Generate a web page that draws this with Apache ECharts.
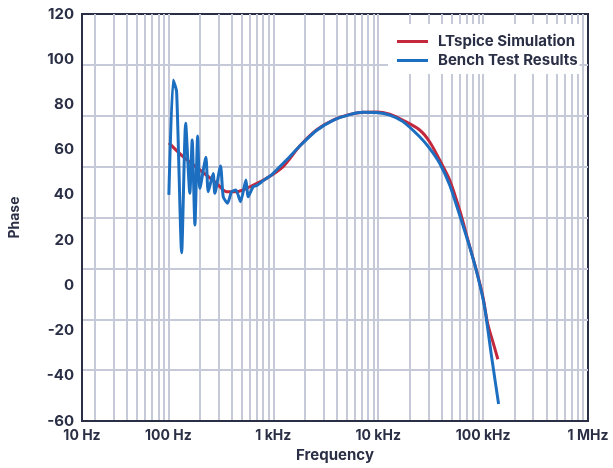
<!DOCTYPE html>
<html>
<head>
<meta charset="utf-8">
<script src="https://cdn.jsdelivr.net/npm/echarts@6/dist/echarts.min.js"></script>
<style>
html,body{margin:0;padding:0;background:#fff;}
#c{width:613px;height:468px;}
</style>
</head>
<body>
<div id="c"></div>
<script>
// ---- data (frequency in Hz, phase in degrees) ----
var ltspiceFreq  = [101, 138, 200, 288, 358, 446, 598, 860, 1240, 1786, 2578, 3716, 5355, 7168, 9610, 12880, 17230, 24840, 30900, 38520, 48000, 59730, 71610, 86100, 99500, 110400, 124000, 138300];
var ltspicePhase = [63.0, 56.9, 51.0, 45.1, 41.4, 41.4, 43.6, 47.3, 52.5, 61.6, 68.7, 73.1, 75.6, 76.6, 76.7, 75.7, 73.0, 68.7, 63.5, 55.4, 46.6, 33.3, 20.1, 6.8, -5.0, -16.8, -25.0, -32.7];

var benchFreq  = [101, 111, 119.7, 133.7, 146, 160, 168.5, 178.9, 190, 199.6, 227.6, 239.5, 267, 277, 314, 333, 366, 400, 439, 487, 548, 576, 642, 700, 743, 800, 860, 950, 1073, 1335, 1786, 2578, 3716, 5355, 7168, 9610, 12880, 17230, 24840, 30900, 38520, 48000, 59730, 74300, 89150, 103200, 120500, 140500];
var benchPhase = [40.0, 90.8, 85.6, 14.4, 71.7, 40.7, 64.3, 26.7, 66.0, 42.9, 56.6, 41.4, 49.5, 40.7, 52.8, 39.2, 36.3, 41.4, 42.2, 37.0, 46.6, 39.2, 43.6, 44.2, 45.1, 46.3, 47.3, 48.6, 51.0, 55.4, 61.6, 68.5, 73.0, 75.5, 76.5, 76.4, 75.3, 72.4, 65.7, 60.6, 54.0, 44.4, 31.1, 17.1, 3.8, -9.5, -31.6, -52.5];

var xTickValues = [15, 100, 1000, 10000, 100000, 1000000];
var xTickLabels = ['10 Hz', '100 Hz', '1 kHz', '10 kHz', '100 kHz', '1 MHz'];
var xMin = 15, xMax = 1000000;
var yMin = -60, yMax = 120, yStep = 20;
var hGridDivisions = 8;

var seriesNames = ['LTspice Simulation', 'Bench Test Results'];
// ---------------------------------------------------

function pairs(xs, ys) { return xs.map(function (x, i) { return [x, ys[i]]; }); }

var gridLines = [];
for (var d = 1; d <= 5; d++) {
  for (var k = 1; k <= 9; k++) {
    var f = k * Math.pow(10, d);
    if (f > xMin && f < xMax) gridLines.push({ xAxis: f });
  }
}
var hStep = (yMax - yMin) / hGridDivisions;
for (var j = 1; j < hGridDivisions; j++) gridLines.push({ yAxis: yMin + j * hStep });

var ink = '#2b2f45';
var font = 'Inter, "Noto Sans", sans-serif';

var chart = echarts.init(document.getElementById('c'), null, { renderer: 'canvas' });
chart.setOption({
  animation: false,
  backgroundColor: '#ffffff',
  grid: {
    left: 82, right: 25, top: 14, bottom: 47,
    show: true, borderColor: ink, borderWidth: 2, backgroundColor: 'transparent'
  },
  legend: {
    orient: 'vertical',
    left: 388, top: 24,
    z: 50, zlevel: 0,
    padding: [10, 2, 6, 9],
    backgroundColor: '#ffffff',
    itemWidth: 31, itemHeight: 3, itemGap: 4,
    icon: 'rect',
    textStyle: { fontFamily: font, fontWeight: 'bold', fontSize: 15, color: ink, padding: [0, 0, 0, 5] },
    data: seriesNames
  },
  xAxis: {
    type: 'log', logBase: 10, min: xMin, max: xMax,
    name: 'Frequency', nameLocation: 'middle', nameGap: 27,
    nameTextStyle: { fontFamily: font, fontWeight: 'bold', fontSize: 15, color: ink },
    axisLine: { show: true, onZero: false, lineStyle: { color: ink, width: 2 } },
    axisTick: { show: false },
    splitLine: { show: false },
    minorSplitLine: { show: false },
    axisLabel: {
      customValues: xTickValues,
      margin: 8,
      fontFamily: font, fontWeight: 'bold', fontSize: 14, color: ink,
      formatter: function (v) {
        var best = 0;
        for (var i = 0; i < xTickValues.length; i++) {
          if (Math.abs(Math.log10(xTickValues[i]) - Math.log10(v)) < Math.abs(Math.log10(xTickValues[best]) - Math.log10(v))) best = i;
        }
        return xTickLabels[best];
      }
    }
  },
  yAxis: {
    type: 'value', min: yMin, max: yMax, interval: yStep,
    name: 'Phase', nameLocation: 'middle', nameGap: 60, nameRotate: 90,
    nameTextStyle: { fontFamily: font, fontWeight: 'bold', fontSize: 14, color: ink },
    axisLine: { show: true, onZero: false, lineStyle: { color: ink, width: 2 } },
    axisTick: { show: false },
    splitLine: { show: false },
    axisLabel: { margin: 8, fontFamily: font, fontWeight: 'bold', fontSize: 15, color: ink }
  },
  series: [
    {
      name: 'grid', type: 'line', data: [], silent: true, z: 0, zlevel: 0,
      markLine: {
        silent: true, symbol: ['none', 'none'], animation: false, z: 0,
        label: { show: false },
        lineStyle: { color: '#c6c9d7', width: 2, type: 'solid' },
        emphasis: { disabled: true },
        data: gridLines
      }
    },
    {
      name: seriesNames[0], type: 'line', data: pairs(ltspiceFreq, ltspicePhase),
      showSymbol: false, smooth: 0.3, z: 3,
      itemStyle: { color: '#c3283c' },
      lineStyle: { color: '#c3283c', width: 3 }
    },
    {
      name: seriesNames[1], type: 'line', data: pairs(benchFreq, benchPhase),
      showSymbol: false, smooth: 0.2, z: 4,
      itemStyle: { color: '#1c6ec0' },
      lineStyle: { color: '#1c6ec0', width: 3 }
    }
  ]
});
</script>
</body>
</html>
